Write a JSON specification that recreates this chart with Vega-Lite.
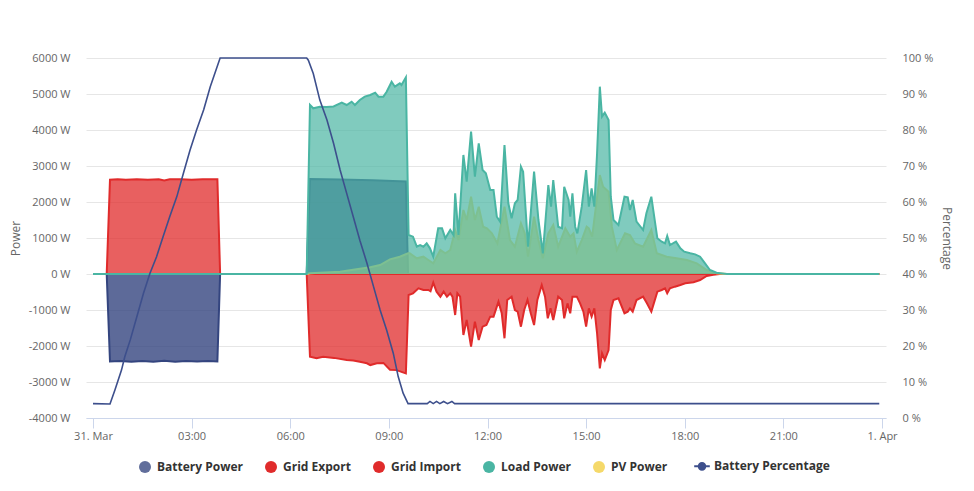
{
  "$schema": "https://vega.github.io/schema/vega-lite/v6.json",
  "width": 800,
  "height": 360,
  "autosize": "none",
  "padding": {"left": 86, "top": 58, "right": 88, "bottom": 73},
  "background": "white",
  "config": {"view": {"stroke": null}, "font": "Open Sans"},
  "datasets": {
    "bat": [
      {"t": "2025-03-31T00:00", "v": 0}, {"t": "2025-03-31T00:25", "v": 0}, {"t": "2025-03-31T00:31", "v": -2430},
      {"t": "2025-03-31T00:50", "v": -2415}, {"t": "2025-03-31T01:10", "v": -2440}, {"t": "2025-03-31T01:30", "v": -2420},
      {"t": "2025-03-31T01:50", "v": -2435}, {"t": "2025-03-31T02:10", "v": -2410}, {"t": "2025-03-31T02:30", "v": -2440},
      {"t": "2025-03-31T02:50", "v": -2420}, {"t": "2025-03-31T03:10", "v": -2430}, {"t": "2025-03-31T03:30", "v": -2415},
      {"t": "2025-03-31T03:47", "v": -2430}, {"t": "2025-03-31T03:52", "v": 0}, {"t": "2025-03-31T06:30", "v": 0},
      {"t": "2025-03-31T06:36", "v": 2640}, {"t": "2025-03-31T07:30", "v": 2625}, {"t": "2025-03-31T08:30", "v": 2605},
      {"t": "2025-03-31T09:31", "v": 2570}, {"t": "2025-03-31T09:35", "v": 0}, {"t": "2025-03-31T23:55", "v": 0}
    ],
    "imp": [
      {"t": "2025-03-31T00:00", "v": 0}, {"t": "2025-03-31T00:25", "v": 0}, {"t": "2025-03-31T00:31", "v": 2620},
      {"t": "2025-03-31T00:45", "v": 2630}, {"t": "2025-03-31T01:00", "v": 2615}, {"t": "2025-03-31T01:20", "v": 2635},
      {"t": "2025-03-31T01:40", "v": 2620}, {"t": "2025-03-31T02:00", "v": 2630}, {"t": "2025-03-31T02:10", "v": 2600},
      {"t": "2025-03-31T02:20", "v": 2630}, {"t": "2025-03-31T02:40", "v": 2635}, {"t": "2025-03-31T03:00", "v": 2620},
      {"t": "2025-03-31T03:20", "v": 2635}, {"t": "2025-03-31T03:47", "v": 2630}, {"t": "2025-03-31T03:52", "v": 0},
      {"t": "2025-03-31T23:55", "v": 0}
    ],
    "exp": [
      {"t": "2025-03-31T00:00", "v": 0}, {"t": "2025-03-31T06:30", "v": 0}, {"t": "2025-03-31T06:36", "v": -2300},
      {"t": "2025-03-31T06:48", "v": -2340}, {"t": "2025-03-31T07:00", "v": -2300}, {"t": "2025-03-31T07:20", "v": -2330},
      {"t": "2025-03-31T07:43", "v": -2390}, {"t": "2025-03-31T07:55", "v": -2400}, {"t": "2025-03-31T08:07", "v": -2440},
      {"t": "2025-03-31T08:20", "v": -2480}, {"t": "2025-03-31T08:26", "v": -2530}, {"t": "2025-03-31T08:38", "v": -2480},
      {"t": "2025-03-31T08:50", "v": -2470}, {"t": "2025-03-31T09:02", "v": -2660}, {"t": "2025-03-31T09:14", "v": -2670},
      {"t": "2025-03-31T09:31", "v": -2760}, {"t": "2025-03-31T09:36", "v": -583}, {"t": "2025-03-31T09:44", "v": -537},
      {"t": "2025-03-31T09:54", "v": -398}, {"t": "2025-03-31T10:03", "v": -444}, {"t": "2025-03-31T10:12", "v": -444},
      {"t": "2025-03-31T10:16", "v": -480}, {"t": "2025-03-31T10:21", "v": -241}, {"t": "2025-03-31T10:27", "v": -491},
      {"t": "2025-03-31T10:34", "v": -630}, {"t": "2025-03-31T10:40", "v": -491}, {"t": "2025-03-31T10:46", "v": -630},
      {"t": "2025-03-31T10:52", "v": -537}, {"t": "2025-03-31T10:56", "v": -630}, {"t": "2025-03-31T11:01", "v": -1139},
      {"t": "2025-03-31T11:05", "v": -537}, {"t": "2025-03-31T11:10", "v": -630}, {"t": "2025-03-31T11:16", "v": -1694},
      {"t": "2025-03-31T11:22", "v": -1278}, {"t": "2025-03-31T11:30", "v": -2019}, {"t": "2025-03-31T11:37", "v": -1324},
      {"t": "2025-03-31T11:44", "v": -1833}, {"t": "2025-03-31T11:51", "v": -1463}, {"t": "2025-03-31T11:58", "v": -1417},
      {"t": "2025-03-31T12:05", "v": -1185}, {"t": "2025-03-31T12:11", "v": -1185}, {"t": "2025-03-31T12:20", "v": -769},
      {"t": "2025-03-31T12:26", "v": -1092}, {"t": "2025-03-31T12:31", "v": -1786}, {"t": "2025-03-31T12:36", "v": -722},
      {"t": "2025-03-31T12:44", "v": -630}, {"t": "2025-03-31T12:50", "v": -1000}, {"t": "2025-03-31T12:55", "v": -1046},
      {"t": "2025-03-31T13:01", "v": -1463}, {"t": "2025-03-31T13:07", "v": -1000}, {"t": "2025-03-31T13:13", "v": -722},
      {"t": "2025-03-31T13:19", "v": -1092}, {"t": "2025-03-31T13:25", "v": -1417}, {"t": "2025-03-31T13:31", "v": -722},
      {"t": "2025-03-31T13:39", "v": -306}, {"t": "2025-03-31T13:45", "v": -630}, {"t": "2025-03-31T13:50", "v": -1231},
      {"t": "2025-03-31T13:55", "v": -954}, {"t": "2025-03-31T14:00", "v": -1278}, {"t": "2025-03-31T14:09", "v": -630},
      {"t": "2025-03-31T14:16", "v": -722}, {"t": "2025-03-31T14:20", "v": -1231}, {"t": "2025-03-31T14:26", "v": -815},
      {"t": "2025-03-31T14:31", "v": -1092}, {"t": "2025-03-31T14:35", "v": -630}, {"t": "2025-03-31T14:43", "v": -630},
      {"t": "2025-03-31T14:49", "v": -815}, {"t": "2025-03-31T14:55", "v": -1046}, {"t": "2025-03-31T15:00", "v": -1463},
      {"t": "2025-03-31T15:05", "v": -954}, {"t": "2025-03-31T15:10", "v": -1185}, {"t": "2025-03-31T15:15", "v": -954},
      {"t": "2025-03-31T15:20", "v": -1648}, {"t": "2025-03-31T15:25", "v": -2621}, {"t": "2025-03-31T15:29", "v": -2204},
      {"t": "2025-03-31T15:34", "v": -2389}, {"t": "2025-03-31T15:41", "v": -2111}, {"t": "2025-03-31T15:45", "v": -1000},
      {"t": "2025-03-31T15:50", "v": -722}, {"t": "2025-03-31T15:59", "v": -676}, {"t": "2025-03-31T16:10", "v": -1092},
      {"t": "2025-03-31T16:16", "v": -1046}, {"t": "2025-03-31T16:20", "v": -954}, {"t": "2025-03-31T16:25", "v": -1046},
      {"t": "2025-03-31T16:32", "v": -722}, {"t": "2025-03-31T16:44", "v": -630}, {"t": "2025-03-31T16:51", "v": -815},
      {"t": "2025-03-31T16:59", "v": -1046}, {"t": "2025-03-31T17:10", "v": -491}, {"t": "2025-03-31T17:18", "v": -444},
      {"t": "2025-03-31T17:24", "v": -398}, {"t": "2025-03-31T17:28", "v": -537}, {"t": "2025-03-31T17:33", "v": -398},
      {"t": "2025-03-31T17:42", "v": -352}, {"t": "2025-03-31T17:52", "v": -306}, {"t": "2025-03-31T18:01", "v": -259},
      {"t": "2025-03-31T18:16", "v": -231}, {"t": "2025-03-31T18:28", "v": -167}, {"t": "2025-03-31T18:40", "v": -56},
      {"t": "2025-03-31T18:52", "v": -19}, {"t": "2025-03-31T19:04", "v": 0}, {"t": "2025-03-31T23:55", "v": 0}
    ],
    "load": [
      {"t": "2025-03-31T00:00", "v": 0}, {"t": "2025-03-31T06:30", "v": 0}, {"t": "2025-03-31T06:36", "v": 4695},
      {"t": "2025-03-31T06:42", "v": 4603}, {"t": "2025-03-31T06:54", "v": 4648}, {"t": "2025-03-31T07:06", "v": 4640},
      {"t": "2025-03-31T07:19", "v": 4655}, {"t": "2025-03-31T07:34", "v": 4759}, {"t": "2025-03-31T07:43", "v": 4695},
      {"t": "2025-03-31T07:52", "v": 4787}, {"t": "2025-03-31T07:58", "v": 4695}, {"t": "2025-03-31T08:07", "v": 4834},
      {"t": "2025-03-31T08:16", "v": 4926}, {"t": "2025-03-31T08:26", "v": 4973}, {"t": "2025-03-31T08:35", "v": 5037},
      {"t": "2025-03-31T08:41", "v": 4926}, {"t": "2025-03-31T08:50", "v": 4926}, {"t": "2025-03-31T08:56", "v": 5064},
      {"t": "2025-03-31T09:05", "v": 5342}, {"t": "2025-03-31T09:11", "v": 5203}, {"t": "2025-03-31T09:20", "v": 5296},
      {"t": "2025-03-31T09:23", "v": 5250}, {"t": "2025-03-31T09:31", "v": 5463}, {"t": "2025-03-31T09:36", "v": 1083},
      {"t": "2025-03-31T09:44", "v": 1037}, {"t": "2025-03-31T09:51", "v": 759}, {"t": "2025-03-31T09:57", "v": 805},
      {"t": "2025-03-31T10:03", "v": 759}, {"t": "2025-03-31T10:09", "v": 852}, {"t": "2025-03-31T10:15", "v": 713},
      {"t": "2025-03-31T10:21", "v": 481}, {"t": "2025-03-31T10:30", "v": 1269}, {"t": "2025-03-31T10:37", "v": 1269},
      {"t": "2025-03-31T10:43", "v": 991}, {"t": "2025-03-31T10:52", "v": 1222}, {"t": "2025-03-31T10:58", "v": 1083},
      {"t": "2025-03-31T11:01", "v": 2241}, {"t": "2025-03-31T11:07", "v": 1083}, {"t": "2025-03-31T11:16", "v": 3306},
      {"t": "2025-03-31T11:22", "v": 2564}, {"t": "2025-03-31T11:30", "v": 3953}, {"t": "2025-03-31T11:37", "v": 2703},
      {"t": "2025-03-31T11:44", "v": 3630}, {"t": "2025-03-31T11:51", "v": 2889}, {"t": "2025-03-31T11:57", "v": 2797},
      {"t": "2025-03-31T12:05", "v": 2333}, {"t": "2025-03-31T12:11", "v": 2333}, {"t": "2025-03-31T12:17", "v": 1592},
      {"t": "2025-03-31T12:23", "v": 1453}, {"t": "2025-03-31T12:31", "v": 3584}, {"t": "2025-03-31T12:38", "v": 1964},
      {"t": "2025-03-31T12:44", "v": 1547}, {"t": "2025-03-31T12:50", "v": 1964}, {"t": "2025-03-31T12:55", "v": 2056},
      {"t": "2025-03-31T13:01", "v": 2981}, {"t": "2025-03-31T13:05", "v": 2842}, {"t": "2025-03-31T13:14", "v": 759},
      {"t": "2025-03-31T13:25", "v": 2842}, {"t": "2025-03-31T13:33", "v": 1500}, {"t": "2025-03-31T13:41", "v": 575},
      {"t": "2025-03-31T13:51", "v": 2472}, {"t": "2025-03-31T13:56", "v": 1870}, {"t": "2025-03-31T14:00", "v": 2611},
      {"t": "2025-03-31T14:09", "v": 1314}, {"t": "2025-03-31T14:16", "v": 1269}, {"t": "2025-03-31T14:20", "v": 2425},
      {"t": "2025-03-31T14:28", "v": 2056}, {"t": "2025-03-31T14:31", "v": 1592}, {"t": "2025-03-31T14:35", "v": 2241},
      {"t": "2025-03-31T14:40", "v": 1314}, {"t": "2025-03-31T14:44", "v": 1130}, {"t": "2025-03-31T14:52", "v": 1870},
      {"t": "2025-03-31T15:00", "v": 2889}, {"t": "2025-03-31T15:05", "v": 1870}, {"t": "2025-03-31T15:10", "v": 2380},
      {"t": "2025-03-31T15:15", "v": 1870}, {"t": "2025-03-31T15:20", "v": 3353}, {"t": "2025-03-31T15:25", "v": 5203},
      {"t": "2025-03-31T15:29", "v": 4370}, {"t": "2025-03-31T15:34", "v": 4481}, {"t": "2025-03-31T15:41", "v": 4278},
      {"t": "2025-03-31T15:45", "v": 2148}, {"t": "2025-03-31T15:50", "v": 1500}, {"t": "2025-03-31T15:59", "v": 1361},
      {"t": "2025-03-31T16:10", "v": 2148}, {"t": "2025-03-31T16:16", "v": 2130}, {"t": "2025-03-31T16:20", "v": 1778},
      {"t": "2025-03-31T16:25", "v": 2056}, {"t": "2025-03-31T16:32", "v": 1453}, {"t": "2025-03-31T16:44", "v": 1222},
      {"t": "2025-03-31T16:50", "v": 1686}, {"t": "2025-03-31T16:59", "v": 2148}, {"t": "2025-03-31T17:10", "v": 991},
      {"t": "2025-03-31T17:18", "v": 898}, {"t": "2025-03-31T17:24", "v": 852}, {"t": "2025-03-31T17:28", "v": 1055},
      {"t": "2025-03-31T17:33", "v": 805}, {"t": "2025-03-31T17:44", "v": 898}, {"t": "2025-03-31T17:52", "v": 713},
      {"t": "2025-03-31T17:59", "v": 620}, {"t": "2025-03-31T18:10", "v": 575}, {"t": "2025-03-31T18:19", "v": 546},
      {"t": "2025-03-31T18:28", "v": 481}, {"t": "2025-03-31T18:37", "v": 296}, {"t": "2025-03-31T18:46", "v": 111},
      {"t": "2025-03-31T18:58", "v": 37}, {"t": "2025-03-31T19:17", "v": 0}, {"t": "2025-03-31T23:55", "v": 0}
    ],
    "pv": [
      {"t": "2025-03-31T00:00", "v": 0}, {"t": "2025-03-31T06:30", "v": 0}, {"t": "2025-03-31T06:36", "v": 20},
      {"t": "2025-03-31T07:31", "v": 64}, {"t": "2025-03-31T08:01", "v": 130}, {"t": "2025-03-31T08:26", "v": 185},
      {"t": "2025-03-31T08:44", "v": 250}, {"t": "2025-03-31T09:02", "v": 407}, {"t": "2025-03-31T09:20", "v": 481},
      {"t": "2025-03-31T09:35", "v": 575}, {"t": "2025-03-31T09:38", "v": 575}, {"t": "2025-03-31T09:51", "v": 435},
      {"t": "2025-03-31T10:03", "v": 481}, {"t": "2025-03-31T10:12", "v": 389}, {"t": "2025-03-31T10:21", "v": 296},
      {"t": "2025-03-31T10:34", "v": 667}, {"t": "2025-03-31T10:43", "v": 575}, {"t": "2025-03-31T10:52", "v": 667},
      {"t": "2025-03-31T11:01", "v": 1222}, {"t": "2025-03-31T11:07", "v": 944}, {"t": "2025-03-31T11:16", "v": 1778},
      {"t": "2025-03-31T11:22", "v": 1500}, {"t": "2025-03-31T11:30", "v": 2148}, {"t": "2025-03-31T11:37", "v": 1500},
      {"t": "2025-03-31T11:44", "v": 1870}, {"t": "2025-03-31T11:52", "v": 1314}, {"t": "2025-03-31T11:59", "v": 1269},
      {"t": "2025-03-31T12:08", "v": 1130}, {"t": "2025-03-31T12:18", "v": 852}, {"t": "2025-03-31T12:31", "v": 1870},
      {"t": "2025-03-31T12:41", "v": 944}, {"t": "2025-03-31T12:50", "v": 759}, {"t": "2025-03-31T13:01", "v": 1407},
      {"t": "2025-03-31T13:08", "v": 1130}, {"t": "2025-03-31T13:14", "v": 481}, {"t": "2025-03-31T13:25", "v": 1592},
      {"t": "2025-03-31T13:33", "v": 944}, {"t": "2025-03-31T13:41", "v": 435}, {"t": "2025-03-31T13:51", "v": 1130},
      {"t": "2025-03-31T14:00", "v": 1361}, {"t": "2025-03-31T14:09", "v": 759}, {"t": "2025-03-31T14:22", "v": 1269},
      {"t": "2025-03-31T14:31", "v": 1037}, {"t": "2025-03-31T14:37", "v": 1130}, {"t": "2025-03-31T14:43", "v": 620},
      {"t": "2025-03-31T14:52", "v": 944}, {"t": "2025-03-31T15:01", "v": 1314}, {"t": "2025-03-31T15:05", "v": 1269},
      {"t": "2025-03-31T15:11", "v": 1037}, {"t": "2025-03-31T15:25", "v": 2750}, {"t": "2025-03-31T15:31", "v": 2425},
      {"t": "2025-03-31T15:41", "v": 2287}, {"t": "2025-03-31T15:47", "v": 1314}, {"t": "2025-03-31T15:56", "v": 667},
      {"t": "2025-03-31T16:11", "v": 1130}, {"t": "2025-03-31T16:20", "v": 1083}, {"t": "2025-03-31T16:29", "v": 852},
      {"t": "2025-03-31T16:44", "v": 759}, {"t": "2025-03-31T16:59", "v": 1222}, {"t": "2025-03-31T17:09", "v": 575},
      {"t": "2025-03-31T17:27", "v": 481}, {"t": "2025-03-31T17:45", "v": 435}, {"t": "2025-03-31T18:04", "v": 389},
      {"t": "2025-03-31T18:22", "v": 296}, {"t": "2025-03-31T18:40", "v": 111}, {"t": "2025-03-31T18:58", "v": 19},
      {"t": "2025-03-31T19:17", "v": 0}, {"t": "2025-03-31T23:55", "v": 0}
    ],
    "pct": [
      {"t": "2025-03-31T00:00", "v": 4}, {"t": "2025-03-31T00:31", "v": 3.9}, {"t": "2025-03-31T00:40", "v": 7.8},
      {"t": "2025-03-31T00:52", "v": 13.3}, {"t": "2025-03-31T00:58", "v": 17}, {"t": "2025-03-31T01:08", "v": 21.7},
      {"t": "2025-03-31T01:20", "v": 28.1}, {"t": "2025-03-31T01:32", "v": 34.6}, {"t": "2025-03-31T01:44", "v": 40.2},
      {"t": "2025-03-31T01:56", "v": 44.8}, {"t": "2025-03-31T02:08", "v": 50.4}, {"t": "2025-03-31T02:20", "v": 55.9},
      {"t": "2025-03-31T02:33", "v": 61.5}, {"t": "2025-03-31T02:45", "v": 68}, {"t": "2025-03-31T02:57", "v": 74.4},
      {"t": "2025-03-31T03:09", "v": 80}, {"t": "2025-03-31T03:22", "v": 85.6}, {"t": "2025-03-31T03:34", "v": 92},
      {"t": "2025-03-31T03:52", "v": 100}, {"t": "2025-03-31T06:30", "v": 100}, {"t": "2025-03-31T06:33", "v": 99.4},
      {"t": "2025-03-31T06:42", "v": 95.7}, {"t": "2025-03-31T06:54", "v": 88.3}, {"t": "2025-03-31T07:07", "v": 82.8},
      {"t": "2025-03-31T07:19", "v": 76.3}, {"t": "2025-03-31T07:31", "v": 68.9}, {"t": "2025-03-31T07:43", "v": 62.4},
      {"t": "2025-03-31T07:55", "v": 55.9}, {"t": "2025-03-31T08:07", "v": 49.4}, {"t": "2025-03-31T08:20", "v": 43},
      {"t": "2025-03-31T08:32", "v": 36.5}, {"t": "2025-03-31T08:44", "v": 30}, {"t": "2025-03-31T08:56", "v": 24.4},
      {"t": "2025-03-31T09:08", "v": 18}, {"t": "2025-03-31T09:17", "v": 11.5}, {"t": "2025-03-31T09:26", "v": 6.9},
      {"t": "2025-03-31T09:35", "v": 4}, {"t": "2025-03-31T10:10", "v": 4}, {"t": "2025-03-31T10:15", "v": 4.6},
      {"t": "2025-03-31T10:21", "v": 4}, {"t": "2025-03-31T10:27", "v": 4.6}, {"t": "2025-03-31T10:33", "v": 4},
      {"t": "2025-03-31T10:40", "v": 4.6}, {"t": "2025-03-31T10:47", "v": 4}, {"t": "2025-03-31T10:55", "v": 4.6},
      {"t": "2025-03-31T11:00", "v": 4}, {"t": "2025-03-31T23:55", "v": 4}
    ]
  },
  "encoding": {
    "x": {
      "field": "t",
      "type": "temporal",
      "scale": {"domain": [
        {"year": 2025, "month": 3, "date": 30, "hours": 23, "minutes": 47, "seconds": 13},
        {"year": 2025, "month": 4, "date": 1, "hours": 0, "minutes": 7, "seconds": 18}
      ]},
      "axis": {
        "title": null,
        "values": [
          {"year": 2025, "month": 3, "date": 31, "hours": 0},
          {"year": 2025, "month": 3, "date": 31, "hours": 3},
          {"year": 2025, "month": 3, "date": 31, "hours": 6},
          {"year": 2025, "month": 3, "date": 31, "hours": 9},
          {"year": 2025, "month": 3, "date": 31, "hours": 12},
          {"year": 2025, "month": 3, "date": 31, "hours": 15},
          {"year": 2025, "month": 3, "date": 31, "hours": 18},
          {"year": 2025, "month": 3, "date": 31, "hours": 21},
          {"year": 2025, "month": 4, "date": 1, "hours": 0}
        ],
        "labelExpr": "hours(datum.value) == 0 ? (date(datum.value) + '. ' + timeFormat(datum.value, '%b')) : timeFormat(datum.value, '%H:%M')",
        "grid": false,
        "domainColor": "#ccd6eb",
        "tickColor": "#ccd6eb",
        "tickSize": 10,
        "labelPadding": 2,
        "labelColor": "#666666",
        "labelFontSize": 11,
        "labelFont": "Open Sans",
        "labelFlush": false,
        "labelOverlap": false
      }
    }
  },
  "layer": [
    {
      "encoding": {
        "y": {
          "field": "v",
          "type": "quantitative",
          "scale": {"domain": [-4000, 6000], "nice": false, "zero": false},
          "axis": {
            "title": "Power",
            "values": [-4000, -3000, -2000, -1000, 0, 1000, 2000, 3000, 4000, 5000, 6000],
            "labelExpr": "datum.value + ' W'",
            "grid": true,
            "gridColor": "#e6e6e6",
            "domain": false,
            "ticks": false,
            "labelPadding": 16,
            "labelColor": "#666666",
            "labelFontSize": 11,
            "labelFont": "Open Sans",
            "titleColor": "#666666",
            "titleFontSize": 12,
            "titleFont": "Open Sans",
            "titleFontWeight": "normal",
            "titleX": -71,
            "titleY": 180,
            "titleAngle": 270,
            "titleAlign": "center",
            "titleBaseline": "middle"
          }
        },
        "y2": {"datum": 0}
      },
      "layer": [
        {
          "data": {"name": "bat"},
          "mark": {"type": "area", "fillOpacity": 0.8, "line": {"strokeWidth": 2}},
          "encoding": {
            "color": {
              "datum": "Battery Power",
              "type": "nominal",
              "scale": {
                "domain": ["Battery Power", "Grid Export", "Grid Import", "Load Power", "PV Power", "Battery Percentage"],
                "range": ["#34457f", "#e02b2b", "#e02b2b", "#4ab5a3", "#f5d96a", "#3d4f8c"]
              },
              "legend": {
                "title": null,
                "orient": "none",
                "legendX": 53,
                "legendY": 402,
                "direction": "horizontal",
                "columns": 6,
                "symbolType": "circle",
                "symbolSize": 144,
                "symbolOpacity": 1,
                "labelFont": "Open Sans",
                "labelFontSize": 12,
                "labelFontWeight": "bold",
                "labelColor": "#333333",
                "labelOffset": 6,
                "columnPadding": 22,
                "padding": 0,
                "encode": {
                  "symbols": {
                    "update": {
                      "shape": {"signal": "datum.value === 'Battery Percentage' ? 'M-1.3,0L1.3,0M-0.55,0A0.55,0.55,0,1,0,0.55,0A0.55,0.55,0,1,0,-0.55,0' : 'circle'"},
                      "fillOpacity": {"signal": "datum.value === 'Battery Power' ? 0.78 : 1"},
                      "stroke": {"signal": "datum.value === 'Battery Percentage' ? '#3d4f8c' : 'transparent'"},
                      "strokeWidth": {"signal": "datum.value === 'Battery Percentage' ? 2 : 0"}
                    }
                  }
                }
              }
            }
          }
        },
        {
          "data": {"name": "exp"},
          "mark": {"type": "area", "fillOpacity": 0.75, "line": {"strokeWidth": 2}},
          "encoding": {"color": {"datum": "Grid Export", "type": "nominal"}}
        },
        {
          "data": {"name": "imp"},
          "mark": {"type": "area", "fillOpacity": 0.75, "line": {"strokeWidth": 2}},
          "encoding": {"color": {"datum": "Grid Import", "type": "nominal"}}
        },
        {
          "data": {"name": "pv"},
          "mark": {"type": "area", "fillOpacity": 0.75, "line": {"strokeWidth": 2}},
          "encoding": {"color": {"datum": "PV Power", "type": "nominal"}}
        },
        {
          "data": {"name": "load"},
          "mark": {"type": "area", "fillOpacity": 0.7, "line": {"strokeWidth": 2}},
          "encoding": {"color": {"datum": "Load Power", "type": "nominal"}}
        }
      ]
    },
    {
      "data": {"name": "pct"},
      "mark": {"type": "line", "strokeWidth": 1.6},
      "encoding": {
        "y": {
          "field": "v",
          "type": "quantitative",
          "scale": {"domain": [0, 100], "nice": false},
          "axis": {
            "orient": "right",
            "title": "Percentage",
            "values": [0, 10, 20, 30, 40, 50, 60, 70, 80, 90, 100],
            "labelExpr": "datum.value + ' %'",
            "grid": false,
            "domain": false,
            "ticks": false,
            "labelPadding": 16,
            "labelColor": "#666666",
            "labelFontSize": 11,
            "labelFont": "Open Sans",
            "titleColor": "#666666",
            "titleFontSize": 12,
            "titleFont": "Open Sans",
            "titleFontWeight": "normal",
            "titleX": 60,
            "titleY": 180,
            "titleAngle": 90,
            "titleAlign": "center",
            "titleBaseline": "middle"
          }
        },
        "color": {"datum": "Battery Percentage", "type": "nominal"}
      }
    }
  ],
  "resolve": {"scale": {"y": "independent"}}
}
